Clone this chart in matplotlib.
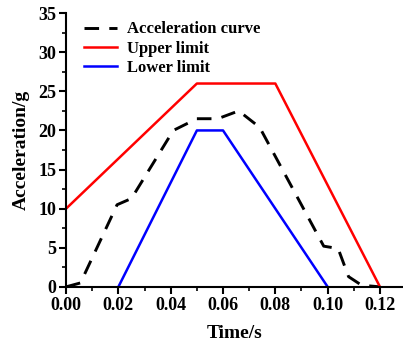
import matplotlib
matplotlib.use('Agg')
import matplotlib.pyplot as plt
from matplotlib.ticker import MultipleLocator, FormatStrFormatter

plt.rcParams['font.family'] = 'Liberation Serif'
plt.rcParams['font.weight'] = 'bold'

# Acceleration curve
t_acc = [0, 0.0055, 0.0195, 0.025, 0.041, 0.05, 0.058, 0.066, 0.074, 0.0985, 0.104, 0.108, 0.113, 0.12]
a_acc = [0, 0.5, 10.5, 11.3, 20.0, 21.5, 21.5, 22.5, 20.4, 5.2, 4.9, 1.3, 0.2, 0]

# Limits
t_up = [0, 0.05, 0.08, 0.12]
a_up = [10, 26, 26, 0]
t_low = [0.02, 0.05, 0.06, 0.10]
a_low = [0, 20, 20, 0]

fig = plt.figure(figsize=(4.03, 3.46), dpi=100)
ax = fig.add_axes([0.164, 0.171, 0.834, 0.791])

ax.plot(t_acc, a_acc, color='black', linestyle=(0, (5, 3.5)), linewidth=2.1, label='Acceleration curve')
ax.plot(t_up, a_up, color='red', linewidth=1.8, label='Upper limit')
ax.plot(t_low, a_low, color='blue', linewidth=1.8, label='Lower limit')

ax.set_xlim(0, 0.1285)
ax.set_ylim(0, 35)
ax.xaxis.set_major_locator(MultipleLocator(0.02))
ax.xaxis.set_minor_locator(MultipleLocator(0.01))
ax.yaxis.set_major_locator(MultipleLocator(5))
ax.yaxis.set_minor_locator(MultipleLocator(2.5))
ax.xaxis.set_major_formatter(FormatStrFormatter('%.2f'))

for side in ['top', 'right']:
    ax.spines[side].set_visible(False)
for side in ['left', 'bottom']:
    ax.spines[side].set_linewidth(1.5)

ax.tick_params(which='major', direction='out', length=5, width=1.5, labelsize=13, pad=2)
ax.tick_params(which='minor', direction='out', length=3, width=1.2)

ax.set_xlabel('Time/s', fontsize=14, fontweight='bold', labelpad=8)
ax.set_ylabel('Acceleration/g', fontsize=14, fontweight='bold', labelpad=6)

ax.legend(loc='upper left', bbox_to_anchor=(0.027, 1.0), frameon=False, fontsize=12,
          handlelength=2.0, handletextpad=0.6, labelspacing=0.2, borderaxespad=0.3,
          borderpad=0.2)

fig.savefig('out.png', dpi=100)
